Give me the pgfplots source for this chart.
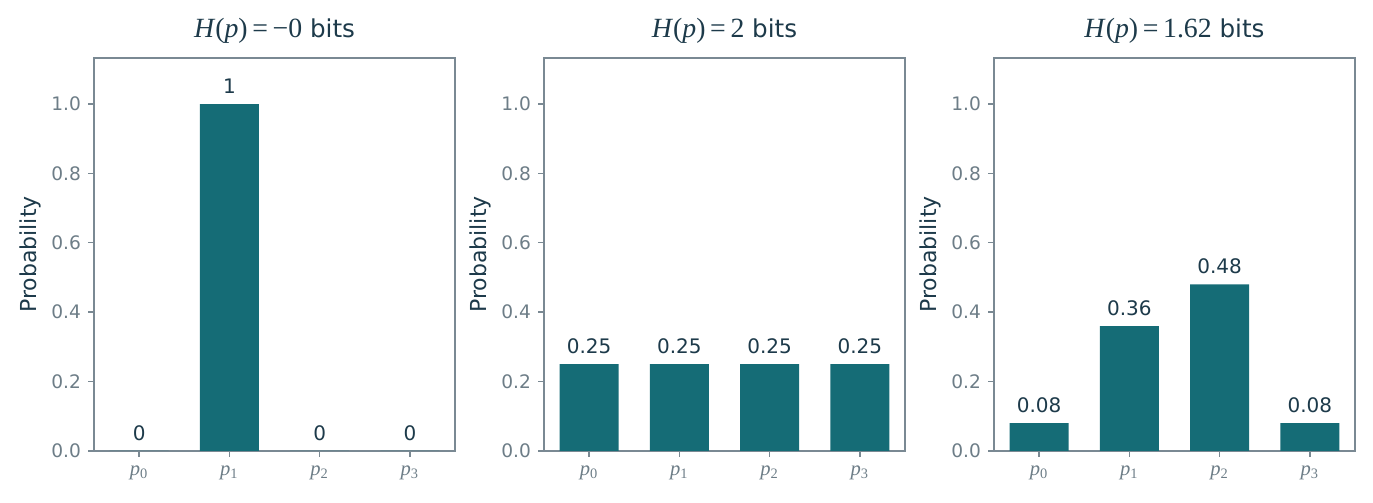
\documentclass[border=0pt]{standalone}
\usepackage{fontspec}
\setmainfont{DejaVu Sans}
\newfontfamily\stix{Liberation Serif}
\usepackage{pgfplots}
\pgfplotsset{compat=1.18}

\definecolor{barcol}{HTML}{156C76}
\definecolor{txtdark}{HTML}{1D3A4A}
\definecolor{axgray}{HTML}{7A8993}
\definecolor{tkgray}{HTML}{6D7D87}

% serif "math" part of the titles
\newcommand{\ent}[1]{{\fontsize{13.9}{15}\stix\textit{H}(\textit{p})\,=\,#1}}
\newcommand{\pp}[1]{{\stix\textit{p}\textsubscript{#1}}}

\pgfplotsset{
  probpanel/.style={
    width=180.5pt, height=196.5pt, scale only axis,
    anchor=south west,
    xmin=-0.5, xmax=3.5, ymin=0, ymax=1.1326,
    xtick={0,1,2,3},
    xticklabels={\pp{0},\pp{1},\pp{2},\pp{3}},
    ytick={0,0.2,0.4,0.6,0.8,1.0},
    yticklabel style={/pgf/number format/fixed, /pgf/number format/fixed zerofill,
      /pgf/number format/precision=1, /pgf/number format/assume math mode=true},
    tick pos=left, tick align=outside,
    major tick length=3pt,
    axis line style={axgray, line width=0.8pt},
    every tick/.style={axgray, line width=0.7pt},
    tick label style={tkgray, font=\fontsize{9.3}{10}\selectfont},
    x tick label style={font=\fontsize{10.3}{12}\selectfont, yshift=-1pt},
    ylabel={Probability},
    ylabel style={at={(axis description cs:-0.177,0.5)}, anchor=center, rotate=0,
      txtdark, font=\fontsize{11}{12}\selectfont},
    title style={at={(axis description cs:0.5,1)}, anchor=base, yshift=4pt,
      txtdark, font=\fontsize{12.3}{14}\selectfont},
    ybar, bar width=29.5pt,
    nodes near coords,
    every node near coord/.append style={txtdark, font=\fontsize{10}{12}\selectfont,
      inner sep=0pt, anchor=south, yshift=5pt,
      /pgf/number format/fixed, /pgf/number format/precision=2,
      /pgf/number format/assume math mode=true},
  },
}

\begin{document}
\begin{tikzpicture}
\path[use as bounding box] (0,0) rectangle (686.5pt,251.5pt);

\begin{axis}[probpanel, at={(47pt,26pt)}, title={\ent{−0} bits}]
\addplot[fill=barcol, draw=none] coordinates {(0,0) (1,1) (2,0) (3,0)};
\end{axis}

\begin{axis}[probpanel, at={(272pt,26pt)}, title={\ent{2} bits}]
\addplot[fill=barcol, draw=none] coordinates {(0,0.25) (1,0.25) (2,0.25) (3,0.25)};
\end{axis}

\begin{axis}[probpanel, at={(497pt,26pt)}, title={\ent{1.62} bits}]
\addplot[fill=barcol, draw=none] coordinates {(0,0.08) (1,0.36) (2,0.48) (3,0.08)};
\end{axis}
\end{tikzpicture}
\end{document}
